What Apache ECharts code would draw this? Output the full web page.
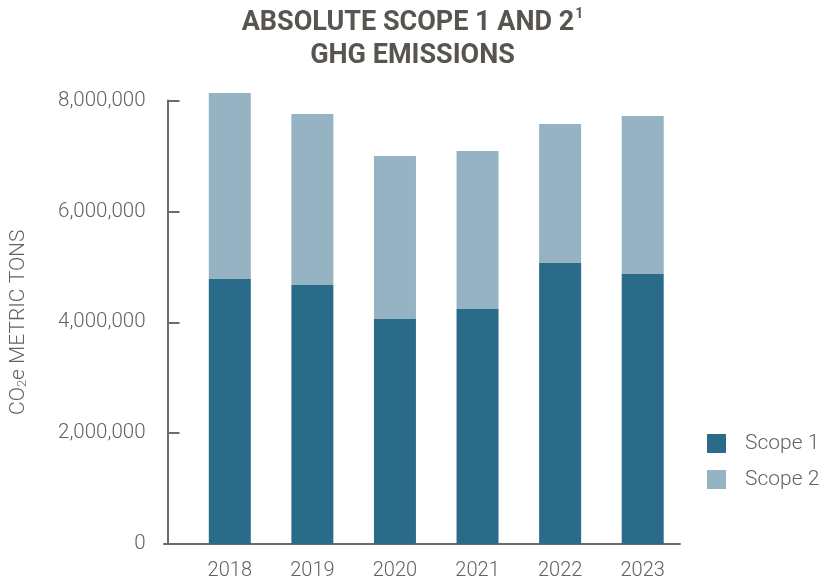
<!DOCTYPE html>
<html>
<head>
<meta charset="utf-8">
<script src="https://cdn.jsdelivr.net/npm/echarts@6/dist/echarts.min.js"></script>
<style>
html,body{margin:0;padding:0;background:#fff;}
#chart{width:825px;height:582px;}
</style>
</head>
<body>
<div id="chart"></div>
<script>
var years = ['2018', '2019', '2020', '2021', '2022', '2023'];
var scope1 = [4780000, 4670000, 4060000, 4240000, 5070000, 4870000];
var scope2 = [3355000, 3086000, 2940000, 2850000, 2506000, 2850000];
var yTicks = [0, 2000000, 4000000, 6000000, 8000000];

var textColor = '#65615d';
var axisColor = '#6e6b67';
var chart = echarts.init(document.getElementById('chart'));
chart.setOption({
  animation: false,
  backgroundColor: '#ffffff',
  title: {
    text: 'ABSOLUTE SCOPE 1 AND 2{sup|1}\nGHG EMISSIONS',
    left: 'center',
    top: 2,
    textStyle: {
      fontFamily: 'Roboto',
      fontWeight: 'bold',
      fontSize: 27,
      color: '#58544f',
      lineHeight: 33,
      rich: {
        sup: {fontFamily: 'Roboto', fontWeight: 'bold', fontSize: 14, color: '#58544f', verticalAlign: 'top', padding: [0, 0, 14, 1], lineHeight: 33}
      }
    }
  },
  legend: {
    orient: 'vertical',
    left: 702,
    top: 428,
    itemWidth: 19,
    itemHeight: 19,
    itemGap: 15,
    icon: 'rect',
    data: ['Scope 1', 'Scope 2'],
    textStyle: {fontFamily: 'Roboto', fontWeight: 300, fontSize: 21, color: textColor, padding: [0, 0, 0, 14]}
  },
  grid: [
    {left: 185, right: 141, top: 100.5, bottom: 38, containLabel: false},
    {left: 164, right: 145, top: 100.5, bottom: 38, containLabel: false}
  ],
  xAxis: [
    {
      type: 'category', gridIndex: 0, data: years,
      axisLine: {show: false},
      axisTick: {show: false},
      axisLabel: {fontFamily: 'Roboto', fontWeight: 300, fontSize: 20, color: textColor, margin: 17}
    },
    {
      type: 'value', gridIndex: 1, min: 0, max: 1,
      axisLine: {show: true, lineStyle: {color: axisColor, width: 2}},
      axisTick: {show: false}, axisLabel: {show: false}, splitLine: {show: false}
    }
  ],
  yAxis: [
    {
      type: 'value', gridIndex: 0, min: 0, max: 8000000, interval: 2000000,
      offset: 21,
      name: 'CO{sub|2}e METRIC TONS',
      nameLocation: 'middle',
      nameGap: 138,
      nameTextStyle: {
        fontFamily: 'Roboto', fontWeight: 300, fontSize: 21, color: textColor,
        rich: {sub: {fontFamily: 'Roboto', fontWeight: 300, fontSize: 13, color: textColor, verticalAlign: 'bottom', padding: [9, 0, 0, 0]}}
      },
      axisLine: {show: true, lineStyle: {color: axisColor, width: 2}},
      axisTick: {show: true, inside: true, length: 12, lineStyle: {color: axisColor, width: 2}},
      axisLabel: {
        fontFamily: 'Roboto', fontWeight: 300, fontSize: 20.5, color: textColor, margin: 22,
        formatter: function (v) { return yTicks.indexOf(v) >= 0 ? v.toLocaleString('en-US') : ''; }
      },
      splitLine: {show: false}
    },
    {
      type: 'value', gridIndex: 1, min: 0, max: 1, show: false
    }
  ],
  series: [
    {
      name: 'Scope 1', type: 'bar', stack: 'total', xAxisIndex: 0, yAxisIndex: 0,
      data: scope1, barWidth: 42, clip: false,
      itemStyle: {color: '#2b6b8a'}
    },
    {
      name: 'Scope 2', type: 'bar', stack: 'total', xAxisIndex: 0, yAxisIndex: 0,
      data: scope2, barWidth: 42, clip: false,
      itemStyle: {color: '#96b3c4'}
    }
  ]
});
</script>
</body>
</html>
